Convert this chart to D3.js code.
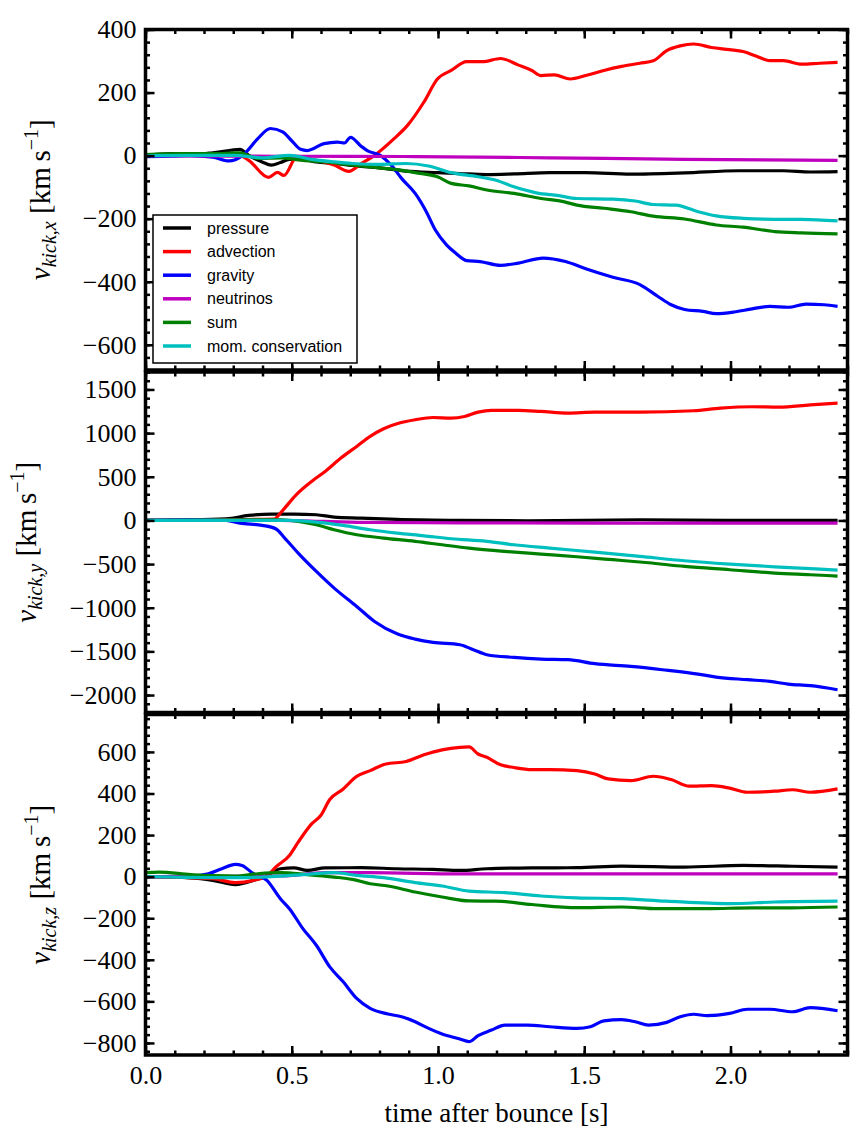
<!DOCTYPE html>
<html>
<head>
<meta charset="utf-8">
<title>Kick velocity components</title>
<style>
  body { margin: 0; background: #fff; }
  svg { display: block; }
  .line { fill: none; stroke-width: 3.2px; stroke-linejoin: round; stroke-linecap: butt; }
</style>
<script src="https://cdn.jsdelivr.net/npm/d3@7"></script>
</head>
<body>
<svg width="863" height="1146"></svg>
<script>

// series names (legend order = drawing order)
var seriesNames = ["pressure", "advection", "gravity", "neutrinos", "sum", "mom. conservation"];
var seriesColors = ["#000000", "#ff0000", "#0000ff", "#bf00bf", "#008000", "#00bfbf"];

// [time after bounce (s), v_kick (km/s)]  -- x component
var xPressure = [[0,0],[0.092,6],[0.154,3],[0.230,9],[0.292,17],[0.323,20],[0.353,1],[0.399,-20],[0.430,-30],[0.461,-22],[0.492,-12],[0.538,-13],[0.584,-20],[0.645,-25],[0.722,-33],[0.799,-39],[0.891,-49],[0.998,-54],[1.075,-57],[1.167,-60],[1.260,-58],[1.382,-54],[1.505,-54],[1.659,-59],[1.843,-55],[2.028,-48],[2.181,-48],[2.273,-52],[2.366,-51]];
var xAdvection = [[0,0],[0.15,2],[0.323,0],[0.353,-15],[0.421,-69],[0.451,-53],[0.473,-63],[0.519,-2],[0.584,-15],[0.645,-30],[0.695,-50],[0.736,-26],[0.782,0],[0.849,53],[0.895,95],[0.952,170],[0.998,243],[1.045,270],[1.098,298],[1.152,298],[1.214,308],[1.275,287],[1.321,270],[1.352,254],[1.398,256],[1.452,243],[1.505,254],[1.567,270],[1.628,283],[1.690,293],[1.736,301],[1.782,333],[1.828,348],[1.874,354],[1.935,343],[1.997,336],[2.043,330],[2.089,315],[2.135,301],[2.181,301],[2.243,290],[2.304,293],[2.366,296]];
var xGravity = [[0,-3],[0.092,-2],[0.154,0],[0.230,-5],[0.285,-17],[0.307,-13],[0.338,6],[0.384,54],[0.427,86],[0.469,75],[0.499,48],[0.530,20],[0.553,16],[0.610,38],[0.656,43],[0.680,40],[0.701,58],[0.737,30],[0.758,16],[0.804,0],[0.840,-30],[0.876,-73],[0.922,-120],[0.960,-178],[0.991,-236],[1.029,-283],[1.060,-309],[1.098,-333],[1.144,-336],[1.214,-348],[1.275,-341],[1.359,-325],[1.436,-336],[1.505,-359],[1.598,-386],[1.690,-409],[1.751,-446],[1.797,-473],[1.843,-488],[1.905,-494],[1.951,-501],[2.012,-496],[2.074,-486],[2.135,-478],[2.197,-481],[2.258,-471],[2.320,-473],[2.366,-478]];
var xNeutrinos = [[0,0],[0.461,-2],[0.922,-3],[1.382,-7],[1.843,-12],[2.366,-15]];
var xSum = [[0,3],[0.123,6],[0.230,6],[0.323,9],[0.384,-9],[0.461,-7],[0.538,-15],[0.614,-20],[0.691,-28],[0.768,-36],[0.845,-43],[0.922,-54],[0.998,-67],[1.045,-88],[1.106,-96],[1.167,-109],[1.260,-120],[1.352,-136],[1.429,-146],[1.475,-157],[1.567,-167],[1.659,-178],[1.736,-192],[1.843,-201],[1.951,-220],[2.043,-227],[2.151,-241],[2.243,-245],[2.366,-248]];
var xMomCons = [[0,0],[0.307,1],[0.399,-7],[0.492,1],[0.568,-12],[0.645,-20],[0.707,-25],[0.799,-28],[0.891,-25],[0.968,-33],[1.045,-54],[1.137,-67],[1.198,-78],[1.260,-99],[1.336,-118],[1.413,-127],[1.475,-136],[1.598,-138],[1.674,-144],[1.736,-155],[1.813,-157],[1.889,-178],[1.951,-191],[2.043,-199],[2.151,-202],[2.243,-202],[2.366,-207]];

// y component
var yPressure = [[0,0],[0.276,19],[0.353,57],[0.430,72],[0.507,72],[0.584,65],[0.645,38],[0.737,27],[0.860,11],[1.075,0],[1.306,-4],[1.690,8],[1.997,0],[2.366,0]];
var yAdvection = [[0,0],[0.440,15],[0.461,84],[0.515,294],[0.568,447],[0.614,561],[0.668,714],[0.722,847],[0.768,962],[0.814,1050],[0.868,1115],[0.922,1153],[0.983,1179],[1.045,1172],[1.091,1191],[1.137,1240],[1.183,1260],[1.275,1260],[1.352,1248],[1.444,1229],[1.536,1240],[1.690,1240],[1.874,1256],[1.966,1286],[2.074,1302],[2.166,1298],[2.273,1324],[2.366,1343]];
var yGravity = [[0,0],[0.154,10],[0.276,0],[0.323,-31],[0.399,-57],[0.445,-95],[0.476,-202],[0.522,-374],[0.584,-584],[0.645,-775],[0.722,-985],[0.783,-1157],[0.860,-1298],[0.922,-1359],[0.983,-1397],[1.075,-1424],[1.121,-1481],[1.167,-1538],[1.260,-1569],[1.352,-1588],[1.444,-1595],[1.536,-1641],[1.659,-1672],[1.767,-1710],[1.889,-1760],[1.951,-1794],[2.058,-1824],[2.135,-1844],[2.197,-1874],[2.273,-1893],[2.366,-1939]];
var yNeutrinos = [[0,0],[0.461,0],[0.614,-11],[0.768,-23],[1.075,-27],[1.536,-31],[2.366,-31]];
var ySum = [[0,0],[0.461,8],[0.522,-11],[0.584,-50],[0.645,-107],[0.722,-164],[0.814,-202],[0.922,-240],[1.014,-279],[1.106,-317],[1.229,-355],[1.352,-386],[1.475,-416],[1.598,-450],[1.720,-485],[1.843,-527],[1.997,-565],[2.151,-603],[2.273,-622],[2.366,-637]];
var yMomCons = [[0,0],[0.492,0],[0.584,-19],[0.676,-57],[0.768,-107],[0.860,-145],[0.952,-176],[1.045,-210],[1.167,-240],[1.260,-279],[1.382,-317],[1.536,-363],[1.690,-412],[1.843,-462],[1.997,-500],[2.151,-531],[2.273,-553],[2.366,-569]];

// z component
var zPressure = [[0,0],[0.154,-6],[0.230,-18],[0.307,-38],[0.369,-18],[0.415,6],[0.461,38],[0.507,42],[0.553,30],[0.614,42],[0.737,43],[0.860,38],[0.983,35],[1.075,30],[1.167,38],[1.321,42],[1.475,43],[1.628,51],[1.843,46],[2.043,54],[2.212,50],[2.366,46]];
var zAdvection = [[0,0],[0.230,-10],[0.307,-29],[0.369,-18],[0.415,3],[0.445,46],[0.492,102],[0.522,166],[0.568,254],[0.599,294],[0.630,371],[0.676,422],[0.722,482],[0.768,510],[0.822,542],[0.891,554],[0.952,586],[1.014,610],[1.075,622],[1.106,624],[1.137,590],[1.167,574],[1.214,538],[1.260,525],[1.321,515],[1.382,515],[1.475,510],[1.536,494],[1.582,470],[1.659,462],[1.736,483],[1.797,467],[1.859,435],[1.935,438],[1.997,426],[2.058,406],[2.151,411],[2.212,418],[2.273,406],[2.366,422]];
var zGravity = [[0,0],[0.154,3],[0.215,14],[0.261,38],[0.307,59],[0.330,54],[0.369,14],[0.415,-18],[0.461,-106],[0.492,-154],[0.538,-250],[0.584,-330],[0.630,-434],[0.676,-506],[0.722,-586],[0.768,-634],[0.829,-661],[0.876,-674],[0.922,-698],[0.968,-730],[1.014,-757],[1.075,-781],[1.106,-794],[1.137,-765],[1.183,-738],[1.229,-714],[1.306,-714],[1.382,-722],[1.475,-730],[1.521,-722],[1.567,-694],[1.628,-688],[1.674,-698],[1.720,-714],[1.782,-701],[1.828,-674],[1.874,-662],[1.920,-669],[1.997,-658],[2.058,-638],[2.135,-638],[2.212,-650],[2.273,-630],[2.366,-645]];
var zNeutrinos = [[0,0],[0.461,3],[0.614,19],[0.768,19],[1.075,13],[1.536,13],[2.366,13]];
var zSum = [[0,19],[0.046,22],[0.154,10],[0.307,3],[0.384,14],[0.461,19],[0.553,10],[0.645,-2],[0.707,-13],[0.768,-34],[0.829,-45],[0.922,-74],[1.014,-98],[1.106,-117],[1.198,-118],[1.321,-134],[1.475,-149],[1.628,-146],[1.751,-154],[1.920,-154],[2.074,-150],[2.212,-150],[2.366,-146]];
var zMomCons = [[0,0],[0.307,-5],[0.430,0],[0.538,10],[0.645,19],[0.722,6],[0.814,-5],[0.922,-29],[1.014,-45],[1.106,-70],[1.229,-77],[1.352,-93],[1.475,-102],[1.628,-106],[1.782,-118],[1.997,-130],[2.151,-122],[2.366,-118]];

// axis ticks
var xMajorTicks = [0, 0.5, 1.0, 1.5, 2.0];
var xMinorTicks = d3.range(0, 2.41, 0.1);

var panels = [
  {comp: "x", data: [xPressure, xAdvection, xGravity, xNeutrinos, xSum, xMomCons],
   domain: [-680, 400], major: [-600, -400, -200, 0, 200, 400], minor: d3.range(-680, 401, 40), labelX: 50},
  {comp: "y", data: [yPressure, yAdvection, yGravity, yNeutrinos, ySum, yMomCons],
   domain: [-2200, 1700], major: [-2000, -1500, -1000, -500, 0, 500, 1000, 1500], minor: d3.range(-2200, 1701, 100), labelX: 36},
  {comp: "z", data: [zPressure, zAdvection, zGravity, zNeutrinos, zSum, zMomCons],
   domain: [-858, 780], major: [-800, -600, -400, -200, 0, 200, 400, 600], minor: d3.range(-840, 781, 40), labelX: 50}
];

var serif = "'Liberation Serif', 'Times New Roman', serif";
var svg = d3.select("svg");
var left = 145.5, right = 847.5;
var panelTop = [29.5, 372, 714.5], panelH = 340.5;

var x = d3.scaleLinear().domain([0, 2.4]).range([left, right]);

function styleAxis(sel) {
  sel.select(".domain").remove();
  sel.selectAll(".tick line").attr("stroke", "#000").attr("stroke-width", 2.5);
  sel.selectAll(".tick text")
      .style("font-family", serif)
      .style("font-size", "26px")
      .attr("fill", "#000");
}

panels.forEach(function(p, i) {
  var top = panelTop[i], bottom = top + panelH;
  var y = d3.scaleLinear().domain(p.domain).range([bottom, top]);
  var g = svg.append("g");

  // lines
  var line = d3.line()
      .curve(d3.curveMonotoneX)
      .x(function(d) { return x(d[0]); })
      .y(function(d) { return y(d[1]); });

  g.selectAll(".line")
    .data(p.data)
    .enter().append("path")
      .attr("class", "line")
      .attr("stroke", function(d, k) { return seriesColors[k]; })
      .attr("d", line);

  // ticks (all inward)
  g.append("g").attr("transform", "translate(" + left + ",0)")
      .call(d3.axisLeft(y).tickValues(p.minor).tickSize(-4.5).tickFormat(""))
      .call(styleAxis);
  g.append("g").attr("transform", "translate(" + left + ",0)")
      .call(d3.axisLeft(y).tickValues(p.major).tickSize(-9).tickPadding(9).tickFormat(d3.format("d")))
      .call(styleAxis);
  g.append("g").attr("transform", "translate(" + right + ",0)")
      .call(d3.axisRight(y).tickValues(p.minor).tickSize(-4.5).tickFormat(""))
      .call(styleAxis);
  g.append("g").attr("transform", "translate(" + right + ",0)")
      .call(d3.axisRight(y).tickValues(p.major).tickSize(-9).tickFormat(""))
      .call(styleAxis);

  g.append("g").attr("transform", "translate(0," + top + ")")
      .call(d3.axisTop(x).tickValues(xMinorTicks).tickSize(-4.5).tickFormat(""))
      .call(styleAxis);
  g.append("g").attr("transform", "translate(0," + top + ")")
      .call(d3.axisTop(x).tickValues(xMajorTicks).tickSize(-9).tickFormat(""))
      .call(styleAxis);
  g.append("g").attr("transform", "translate(0," + bottom + ")")
      .call(d3.axisBottom(x).tickValues(xMinorTicks).tickSize(-4.5).tickFormat(""))
      .call(styleAxis);
  g.append("g").attr("transform", "translate(0," + bottom + ")")
      .call(d3.axisBottom(x).tickValues(xMajorTicks).tickSize(-9).tickPadding(11)
        .tickFormat(i == 2 ? d3.format(".1f") : ""))
      .call(styleAxis);

  // frame
  g.append("rect")
      .attr("x", left).attr("y", top)
      .attr("width", right - left).attr("height", panelH)
      .attr("fill", "none").attr("stroke", "#000").attr("stroke-width", 3.5);

  // y label
  var lab = svg.append("text")
      .attr("transform", "translate(" + p.labelX + "," + (top + panelH / 2) + ") rotate(-90)")
      .attr("text-anchor", "middle")
      .style("font-family", serif)
      .style("font-size", "29px");
  lab.append("tspan").attr("font-style", "italic").text("v");
  lab.append("tspan").attr("font-style", "italic").style("font-size", "20px").attr("dy", 6).text("kick," + p.comp);
  lab.append("tspan").attr("dy", -6).text(" [km\u2009s");
  lab.append("tspan").style("font-size", "20px").attr("dy", -12).text("\u22121");
  lab.append("tspan").attr("dy", 12).text("]");

  // legend in the first panel
  if (i == 0) {
    var lg = g.append("g");
    lg.append("rect")
        .attr("x", 153).attr("y", 215)
        .attr("width", 204).attr("height", 148)
        .attr("fill", "#fff").attr("stroke", "#000").attr("stroke-width", 1.5);
    var item = lg.selectAll(".item")
      .data(seriesNames)
      .enter().append("g")
        .attr("class", "item")
        .attr("transform", function(d, k) { return "translate(0," + (228 + k * 23.6) + ")"; });
    item.append("line")
        .attr("x1", 163).attr("x2", 191)
        .attr("stroke", function(d, k) { return seriesColors[k]; })
        .attr("stroke-width", 3.5);
    item.append("text")
        .attr("x", 207).attr("dy", "0.35em")
        .style("font-family", "'Liberation Sans', Arial, sans-serif")
        .style("font-size", "16px")
        .text(function(d) { return d; });
  }
});

svg.append("text")
    .attr("x", (left + right) / 2)
    .attr("y", 1122)
    .attr("text-anchor", "middle")
    .style("font-family", serif)
    .style("font-size", "27px")
    .text("time after bounce [s]");

</script>
</body>
</html>
